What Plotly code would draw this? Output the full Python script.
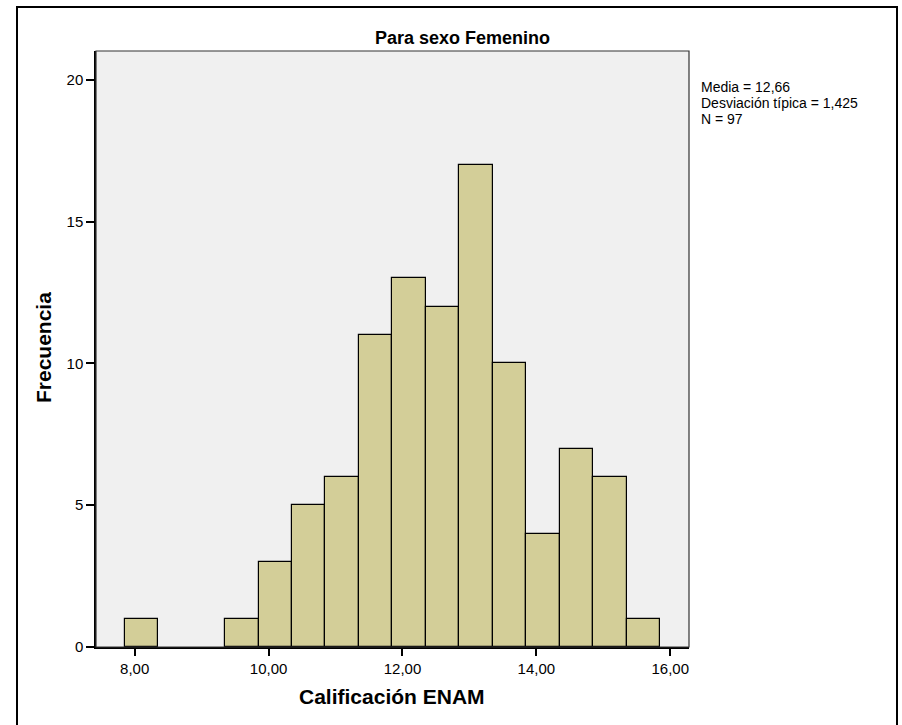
import plotly.graph_objects as go

bin_starts = [7.85, 9.35, 9.85, 10.35, 10.85, 11.35, 11.85, 12.35, 12.85, 13.35, 13.85, 14.35, 14.85, 15.35]
counts = [1, 1, 3, 5, 6, 11, 13, 12, 17, 10, 4, 7, 6, 1]
bin_width = 0.5
x_ticks = [8, 10, 12, 14, 16]
x_tick_labels = ["8,00", "10,00", "12,00", "14,00", "16,00"]
y_ticks = [0, 5, 10, 15, 20]
stats_lines = ["Media = 12,66", "Desviación típica = 1,425", "N = 97"]

FONT = "Arial, Liberation Sans, sans-serif"

centers = [s + bin_width / 2 for s in bin_starts]

fig = go.Figure(go.Bar(
    x=centers, y=counts, width=[bin_width] * len(counts),
    marker=dict(color="#D3CE98", line=dict(color="black", width=1.2)),
    hoverinfo="x+y",
))

W, H = 902, 725
L, R, T, B = 96, 213, 51, 78
pw, ph = W - L - R, H - T - B

def px_x(p):
    return (p - L) / pw

def px_y(p):
    return 1 - (p - T) / ph

annotations = []
for i, line in enumerate(stats_lines):
    annotations.append(dict(
        text=line, xref="paper", yref="paper",
        x=px_x(699), y=px_y(87 + 16 * i), xanchor="left", yanchor="middle",
        showarrow=False, align="left", font=dict(size=14, family=FONT),
    ))
annotations.append(dict(
    text="<b>Calificación ENAM</b>", xref="paper", yref="paper",
    x=px_x(392), y=px_y(696), xanchor="center", yanchor="middle",
    showarrow=False, font=dict(size=21, family=FONT),
))
annotations.append(dict(
    text="<b>Frecuencia</b>", xref="paper", yref="paper",
    x=px_x(43), y=px_y(348), xanchor="center", yanchor="middle",
    showarrow=False, textangle=-90, font=dict(size=21, family=FONT),
))
annotations.append(dict(
    text="<b>Para sexo Femenino</b>", xref="paper", yref="paper",
    x=px_x(462), y=px_y(38), xanchor="center", yanchor="middle",
    showarrow=False, font=dict(size=18, family=FONT),
))

fig.update_layout(
    width=W, height=H,
    margin=dict(l=L, r=R, t=T, b=B),
    paper_bgcolor="white",
    plot_bgcolor="#F0F0F0",
    showlegend=False,
    font=dict(family=FONT, color="black", size=15),
    xaxis=dict(range=[7.422, 16.28], tickvals=x_ticks, ticktext=x_tick_labels,
               showgrid=False, zeroline=False, showline=True, linecolor="black", linewidth=1.5,
               ticks="outside", ticklen=7, tickcolor="black", tickwidth=1.5,
               tickfont=dict(size=15)),
    yaxis=dict(range=[0, 21.02], tickvals=y_ticks,
               showgrid=False, zeroline=False, showline=True, linecolor="black", linewidth=1.5,
               ticks="outside", ticklen=8, tickcolor="black", tickwidth=1.5,
               tickfont=dict(size=15)),
    bargap=0,
    annotations=annotations,
    shapes=[
        dict(type="rect", xref="paper", yref="paper", x0=0, y0=0, x1=1, y1=1,
             line=dict(color="#333333", width=1.2), layer="above"),
        dict(type="rect", xref="paper", yref="paper",
             x0=px_x(17), x1=px_x(897), y0=px_y(740), y1=px_y(7),
             line=dict(color="black", width=2)),
    ],
)

fig.write_html("out.html")
